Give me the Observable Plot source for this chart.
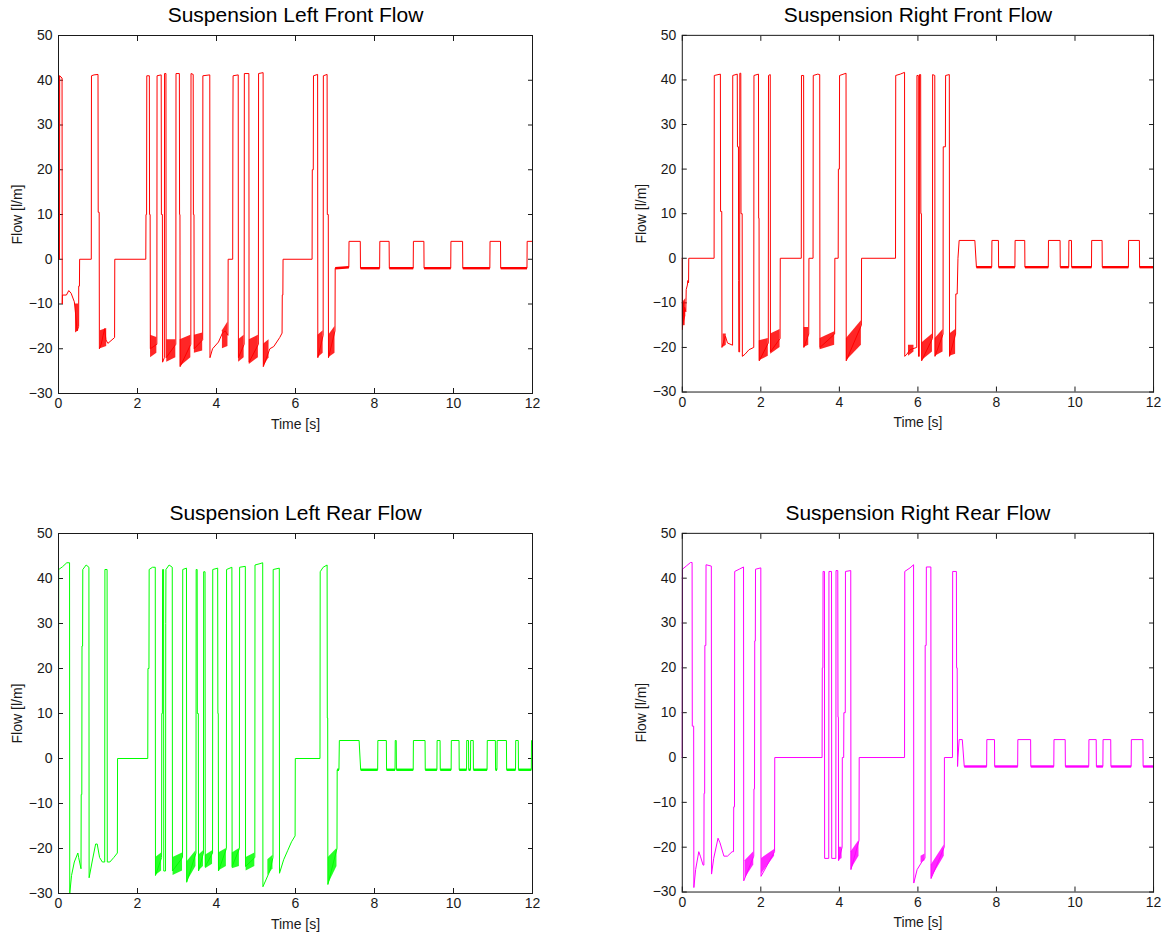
<!DOCTYPE html>
<html>
<head>
<meta charset="utf-8">
<script src="https://cdn.jsdelivr.net/npm/d3@7"></script>
<script src="https://cdn.jsdelivr.net/npm/@observablehq/plot@0.6"></script>
<style>
  html, body { margin: 0; padding: 0; background: #fff; }
  #page { position: relative; width: 1165px; height: 938px; background: #fff; overflow: hidden; }
  .panel { position: absolute; }
</style>
</head>
<body>
<div id="page"></div>
<script>
// ---------------- data ----------------
const xTicks = [0, 2, 4, 6, 8, 10, 12];
const yTicks = [-30, -20, -10, 0, 10, 20, 30, 40, 50];
const titles = ["Suspension Left Front Flow", "Suspension Right Front Flow", "Suspension Left Rear Flow", "Suspension Right Rear Flow"];
const xLabel = "Time [s]";
const yLabel = "Flow [l/m]";
const colors = ["#ff0000", "#ff0000", "#00ff00", "#ff00ff"];

// [time s, flow l/m]
const leftFront = [[0,0],[0.005,41],[0.02,41],[0.025,0],[0.03,41],[0.09,40.5],[0.095,-10],[0.1,-8],[0.2,-8],[0.26,-7],[0.32,-7.6],[0.4,-9.5],[0.43,-12],[0.47,-16],[0.51,-15],[0.512,-6],[0.53,-6],[0.535,0],[0.83,0],[0.835,41],[0.9,41.2],[1.0,41.3],[1.005,10.5],[1.03,10.5],[1.035,-20],[1.08,-19],[1.13,-17],[1.17,-15.5],[1.2,-18],[1.25,-18.8],[1.42,-17.5],[1.425,0],[2.21,0],[2.215,10],[2.23,10],[2.235,41],[2.30,41],[2.305,10],[2.32,10],[2.325,-20],[2.49,-19],[2.495,41],[2.6,41.2],[2.605,10],[2.63,10],[2.635,-23],[2.68,-22],[2.685,41.5],[2.72,41.5],[2.725,-22],[2.97,-19],[2.975,41.5],[3.06,41.5],[3.065,10],[3.075,10],[3.08,-24],[3.35,-19],[3.355,41.5],[3.41,41.3],[3.415,10],[3.43,10],[3.435,-20],[3.65,-18],[3.655,41],[3.83,41.2],[3.835,-22],[3.9,-20],[4.05,-18.5],[4.15,-16.5],[4.22,-16],[4.29,-17],[4.295,0],[4.41,0],[4.415,30],[4.42,41],[4.55,41.2],[4.555,-22],[4.7,-19],[4.705,41.5],[4.82,41.5],[4.825,-23],[5.06,-19],[5.065,41.5],[5.18,41.7],[5.185,-24],[5.35,-20],[5.45,-19.5],[5.6,-17.5],[5.66,-16.5],[5.665,-8],[5.68,-8],[5.685,0],[6.42,0],[6.425,20],[6.45,20],[6.455,41],[6.56,41.3],[6.565,-22],[6.70,-17],[6.705,41],[6.80,41.3],[6.805,10],[6.83,10],[6.835,-22],[7.0,-16],[7.005,-2],[7.35,-1.8],[7.355,4],[7.64,4],[7.645,-2],[8.13,-2],[8.135,4],[8.37,4],[8.375,-2],[8.98,-2],[8.985,4],[9.25,4],[9.255,-2],[9.93,-2],[9.935,4],[10.23,4],[10.235,-2],[10.92,-2],[10.925,4],[11.19,4],[11.195,-2],[11.86,-2],[11.865,4],[12,4]];
const rightFront = [[0,0],[0.005,-16],[0.02,-10],[0.04,-15],[0.06,-11],[0.09,-12],[0.1,-7],[0.13,-6],[0.14,-5],[0.16,-5.5],[0.165,0],[0.81,0],[0.815,41],[0.97,41.3],[0.975,10.5],[1.005,10.5],[1.01,-20],[1.06,-18.5],[1.1,-17.5],[1.15,-19],[1.28,-19.5],[1.285,41],[1.40,41.3],[1.405,25],[1.43,25],[1.435,-5],[1.44,-21],[1.46,-21],[1.465,41.5],[1.49,41.5],[1.495,10],[1.525,10],[1.53,-22],[1.6,-21.5],[1.7,-20.5],[1.82,-20],[1.825,41],[1.94,41.3],[1.945,9],[1.955,9],[1.96,-23],[2.19,-19],[2.195,41],[2.24,41.2],[2.245,-21],[2.49,-18],[2.495,0],[3.03,0],[3.035,41],[3.09,41],[3.095,-20],[3.22,-17],[3.225,0],[3.33,0],[3.335,41],[3.45,41.3],[3.5,41.2],[3.505,-20],[3.88,-17],[3.885,0],[3.97,0],[3.975,20],[4.0,20],[4.005,41],[4.17,41.5],[4.175,-23],[4.56,-15],[4.565,0],[5.43,0],[5.435,41],[5.55,41.3],[5.66,41.7],[5.665,-22],[5.72,-21.5],[5.8,-20.5],[5.97,-20],[5.975,41],[6.01,41],[6.015,-22],[6.035,-22],[6.04,41.2],[6.07,41.2],[6.075,10],[6.09,10],[6.095,-23],[6.37,-18],[6.375,41.2],[6.43,41],[6.435,-22],[6.64,-17],[6.645,25],[6.7,25],[6.705,41],[6.8,41.2],[6.805,-22],[6.96,-17],[6.965,-8],[7.0,-8],[7.02,0],[7.05,4],[7.45,4],[7.49,-2],[7.88,-2],[7.885,4],[8.05,4],[8.055,-2],[8.47,-2],[8.475,4],[8.72,4],[8.725,-2],[9.32,-2],[9.325,4],[9.62,4],[9.625,-2],[9.84,-2],[9.845,4],[9.91,4],[9.915,-2],[10.42,-2],[10.425,4],[10.69,4],[10.695,-2],[11.36,-2],[11.365,4],[11.64,4],[11.645,-2],[12,-2]];
const leftRear = [[0,0],[0.005,42],[0.1,42.6],[0.21,43.5],[0.28,43.5],[0.285,-30],[0.33,-26],[0.4,-23],[0.49,-21],[0.51,-22],[0.57,-24.5],[0.575,-8],[0.59,-8],[0.595,25],[0.61,25],[0.615,42],[0.7,43],[0.77,42.5],[0.775,-26.5],[0.85,-23],[0.94,-19],[0.98,-19],[1.04,-22],[1.11,-23],[1.17,-23],[1.175,42],[1.23,42],[1.235,-23],[1.3,-23],[1.4,-22],[1.49,-21],[1.495,0],[2.26,0],[2.265,20],[2.29,20],[2.295,42],[2.38,42.5],[2.45,42.5],[2.455,-26],[2.61,-22],[2.615,10],[2.63,10],[2.635,42],[2.66,42],[2.665,-25],[2.71,-25],[2.715,30],[2.72,42],[2.8,43],[2.88,42.5],[2.885,-25],[3.14,-22],[3.145,42],[3.24,42.3],[3.245,-27.5],[3.48,-21],[3.485,42],[3.51,42],[3.515,10],[3.54,10],[3.545,-25],[3.67,-21],[3.675,41.5],[3.71,41.5],[3.715,-24],[3.90,-21],[3.905,42],[4.03,42.3],[4.035,10],[4.045,10],[4.05,-25],[4.25,-20],[4.255,42],[4.39,42.5],[4.395,-24],[4.58,-20],[4.585,42.5],[4.73,42.7],[4.735,-24],[4.97,-22],[4.975,43],[5.1,43.3],[5.17,43.5],[5.175,-28.5],[5.25,-27],[5.35,-25],[5.43,-22],[5.435,42],[5.59,42.3],[5.595,-25.5],[5.7,-22.5],[5.8,-20.5],[5.9,-18.5],[5.99,-17.2],[5.995,0],[6.62,0],[6.625,41.5],[6.7,42.5],[6.8,43],[6.805,9],[6.815,9],[6.82,-28],[7.05,-20],[7.055,-2.5],[7.1,-2.5],[7.11,4],[7.61,4],[7.65,-2.5],[8.08,-2.5],[8.085,4],[8.30,4],[8.305,-2.5],[8.52,-2.5],[8.525,4],[8.55,4],[8.555,-2.5],[8.98,-2.5],[8.985,4],[9.28,4],[9.285,-2.5],[9.58,-2.5],[9.585,4],[9.66,4],[9.665,-2.5],[9.94,-2.5],[9.945,4],[10.14,4],[10.145,-2.5],[10.33,-2.5],[10.335,4],[10.38,4],[10.385,-2.5],[10.43,-2.5],[10.435,4],[10.5,4],[10.505,-2.5],[10.85,-2.5],[10.855,4],[11.06,4],[11.065,-2.5],[11.1,-2.5],[11.105,4],[11.34,4],[11.345,-2.5],[11.57,-2.5],[11.575,4],[11.64,4],[11.645,-2.5],[11.97,-2.5],[11.975,4],[12,4]];
const rightRear = [[0,0],[0.005,42],[0.1,42.7],[0.21,43.5],[0.25,43.5],[0.255,7],[0.29,7],[0.295,-29],[0.34,-25],[0.42,-21],[0.46,-22],[0.53,-24],[0.55,-24],[0.555,-8],[0.57,-8],[0.575,25],[0.6,25],[0.605,43],[0.74,42.7],[0.745,-26],[0.8,-22.5],[0.91,-18],[0.96,-19],[1.06,-22],[1.15,-22],[1.27,-21],[1.305,-21],[1.31,-11],[1.33,-11],[1.335,41.5],[1.45,42],[1.56,42.5],[1.565,-27.5],[1.82,-22],[1.825,-7],[1.84,-7],[1.845,26],[1.86,26],[1.865,42],[2.0,42.3],[2.005,-26.5],[2.35,-21],[2.355,0],[3.56,0],[3.565,20],[3.58,20],[3.585,41.5],[3.62,41.5],[3.625,-22.5],[3.73,-22.5],[3.735,41.5],[3.80,41.5],[3.805,-22.5],[3.91,-22.5],[3.915,41.7],[3.96,41.7],[3.965,9],[3.975,9],[3.98,-23],[4.07,-20],[4.075,0],[4.11,0],[4.115,10],[4.15,10],[4.155,41.5],[4.29,41.7],[4.295,-25],[4.5,-18.5],[4.505,0],[5.66,0],[5.665,41.5],[5.8,42.3],[5.89,43],[5.895,-28],[5.98,-25],[6.12,-23],[6.18,-22.5],[6.185,25],[6.21,25],[6.215,42.5],[6.33,42.5],[6.335,-27],[6.67,-20],[6.675,0],[6.88,0],[6.885,41.5],[6.98,41.5],[6.985,20],[7.0,20],[7.01,-2],[7.02,0],[7.05,4],[7.13,4],[7.18,-2],[7.75,-2],[7.755,4],[7.95,4],[7.955,-2],[8.54,-2],[8.545,4],[8.87,4],[8.875,-2],[9.46,-2],[9.465,4],[9.75,4],[9.755,-2],[10.35,-2],[10.355,4],[10.54,4],[10.545,-2],[10.71,-2],[10.715,4],[10.91,4],[10.915,-2],[11.43,-2],[11.435,4],[11.73,4],[11.735,-2],[12,-2]];

// noisy chatter envelopes: [t0, t1, low@t0, high@t0, low@t1, high@t1]
const leftFrontNoise = [[0.43,0.51,-16.5,-10,-16,-10],[1.06,1.22,-20,-16,-19.5,-15.5],[2.33,2.49,-22,-17,-21,-17.5],[2.74,2.97,-23,-18,-22,-18],[3.08,3.35,-24,-18,-22,-17],[3.44,3.65,-21,-17,-20.5,-16.5],[4.15,4.29,-20,-16,-19.5,-14],[4.56,4.70,-23,-18,-22,-17],[4.83,5.06,-23.5,-18,-22,-17],[5.19,5.33,-24,-19,-22,-18],[6.57,6.70,-22,-17,-21,-16],[6.84,7.0,-22,-17,-21,-15]];
const rightFrontNoise = [[0.005,0.09,-16,-10,-13,-9],[1.04,1.12,-20,-17,-19.5,-17],[1.96,2.19,-23,-18.5,-22,-18],[2.25,2.49,-21.5,-17,-20,-16],[3.1,3.22,-20,-15.5,-19.5,-15.5],[3.51,3.88,-20.5,-18,-19.5,-16.5],[4.18,4.56,-23,-18,-19.5,-14],[5.76,5.9,-22,-19.5,-21,-19.5],[6.1,6.37,-23,-19,-21,-17],[6.44,6.64,-22,-18,-21,-16],[6.81,6.96,-22,-17,-21.5,-16]];
const leftRearNoise = [[2.46,2.61,-26,-22,-25,-21],[2.9,3.14,-26,-22,-25,-21],[3.25,3.48,-27.5,-23,-24,-20.5],[3.55,3.67,-25,-21.5,-24,-20.5],[3.72,3.90,-24.5,-21.5,-23.5,-20.5],[4.05,4.25,-25,-21,-24,-20],[4.40,4.58,-24.5,-21,-24,-20],[4.75,4.97,-25,-22,-24,-21],[5.30,5.43,-26,-22.5,-24.5,-21.5],[6.83,7.05,-28,-22,-24,-20]];
const rightRearNoise = [[1.6,1.82,-27,-23,-24,-21],[2.02,2.35,-26,-22.5,-22,-20.5],[3.98,4.07,-23,-20,-22.5,-20],[4.3,4.5,-25,-21,-22,-18.5],[6.08,6.18,-23.5,-22,-23,-21.5],[6.34,6.67,-27,-24,-22,-19.5]];

// ---------------- layout ----------------
const panels = [
  {series: leftFront,  noise: leftFrontNoise,  plotLeft: 58,  plotTop: 35,  w: 474, h: 358},
  {series: rightFront, noise: rightFrontNoise, plotLeft: 682, plotTop: 35,  w: 473, h: 358},
  {series: leftRear,   noise: leftRearNoise,   plotLeft: 58,  plotTop: 533, w: 474, h: 360},
  {series: rightRear,  noise: rightRearNoise,  plotLeft: 682, plotTop: 533, w: 473, h: 360}
];

const ML = 60, MR = 12, MT = 40, MB = 45, TICK = 5;
const axisColor = "#1a1a1a";
const page = document.getElementById("page");

panels.forEach((p, i) => {
  const color = colors[i];
  const bandRows = p.noise.flatMap((b, k) => [
    {t: b[0], lo: b[2], hi: b[3], id: k},
    {t: b[1], lo: b[4], hi: b[5], id: k}
  ]);
  const thickLows = [];
  for (let k = 1; k < p.series.length; k++) {
    const a = p.series[k - 1], b = p.series[k];
    if (a[0] >= 7 && a[1] < 0 && b[1] < 0 && Math.abs(a[1] - b[1]) < 0.5) thickLows.push([a, b]);
  }
  const chart = Plot.plot({
    width: ML + p.w + MR,
    height: MT + p.h + MB,
    marginLeft: ML, marginRight: MR, marginTop: MT, marginBottom: MB,
    style: {fontFamily: "'Liberation Sans', Arial, Helvetica, sans-serif", background: "#fff", overflow: "visible", color: axisColor},
    x: {domain: [0, 12], label: null},
    y: {domain: [-30, 50], label: null},
    marks: [
      // tick labels
      Plot.axisX(xTicks, {anchor: "bottom", tickSize: 0, tickPadding: 5, fontSize: 14, label: null, fill: axisColor}),
      Plot.axisY(yTicks, {anchor: "left", tickSize: 0, tickPadding: 6, fontSize: 14, label: null, fill: axisColor}),
      // inward ticks on all four sides
      Plot.axisX(xTicks, {anchor: "bottom", tickSize: TICK, dy: -TICK, tickFormat: () => "", label: null, stroke: axisColor}),
      Plot.axisX(xTicks, {anchor: "top", tickSize: TICK, dy: TICK, tickFormat: () => "", label: null, stroke: axisColor}),
      Plot.axisY(yTicks, {anchor: "left", tickSize: TICK, dx: TICK, tickFormat: () => "", label: null, stroke: axisColor}),
      Plot.axisY(yTicks, {anchor: "right", tickSize: TICK, dx: -TICK, tickFormat: () => "", label: null, stroke: axisColor}),
      // data
      Plot.areaY(bandRows, {x: "t", y1: "lo", y2: "hi", z: "id", fill: color, fillOpacity: 0.85}),
      Plot.link(thickLows, {x1: d => d[0][0], y1: d => d[0][1], x2: d => d[1][0], y2: d => d[1][1], stroke: color, strokeWidth: 2.4}),
      Plot.line(p.series, {x: d => d[0], y: d => d[1], stroke: color, strokeWidth: 1}),
      Plot.frame({stroke: axisColor, strokeWidth: 1}),
      // titles and axis labels
      Plot.text([titles[i]], {frameAnchor: "top", lineAnchor: "middle", dy: -20, fontSize: 21, fill: "#000"}),
      Plot.text([xLabel], {frameAnchor: "bottom", lineAnchor: "middle", dy: 31, fontSize: 14, fill: axisColor}),
      Plot.text([yLabel], {frameAnchor: "left", textAnchor: "middle", lineAnchor: "middle", dx: -41, rotate: -90, fontSize: 14, fill: axisColor})
    ]
  });
  const div = document.createElement("div");
  div.className = "panel";
  div.style.left = (p.plotLeft - ML) + "px";
  div.style.top = (p.plotTop - MT) + "px";
  div.appendChild(chart);
  page.appendChild(div);
});
</script>
</body>
</html>
